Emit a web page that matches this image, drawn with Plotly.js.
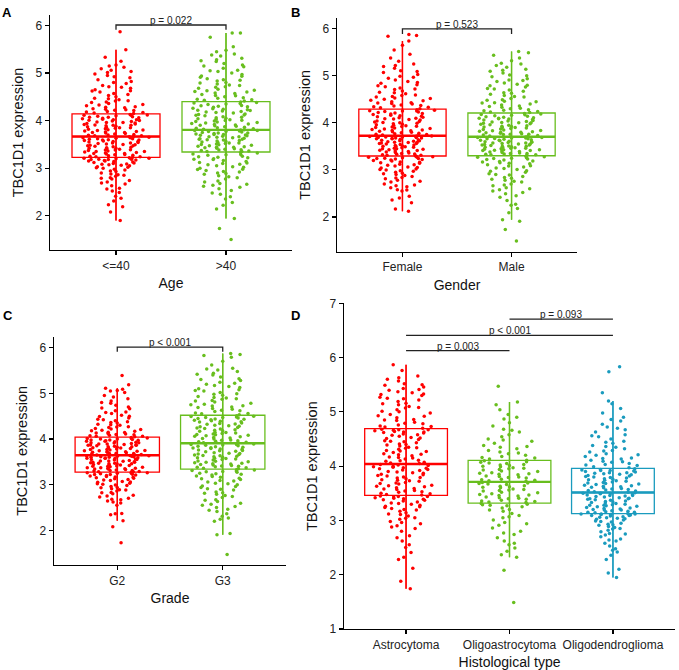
<!DOCTYPE html>
<html>
<head>
<meta charset="utf-8">
<script src="https://cdn.plot.ly/plotly-3.0.1.min.js"></script>
<style>html,body{margin:0;padding:0;background:#fff;}#chart{width:679px;height:670px;}</style>
</head>
<body>
<div id="chart"></div>
<script>
// ---------- categories ----------
const ageCats = ["<=40", ">40"];
const genderCats = ["Female", "Male"];
const gradeCats = ["G2", "G3"];
const histCats = ["Astrocytoma", "Oligoastrocytoma", "Oligodendroglioma"];

// ---------- values (TBC1D1 expression, estimated from the figure) ----------
const ageLE40 = [1.90,2.08,2.19,2.23,2.37,2.41,2.49,2.56,2.63,2.67,2.71,2.77,2.79,2.80,2.85,2.86,2.90,2.93,2.94,2.98,3.00,3.02,3.03,3.06,3.07,3.08,3.10,3.11,3.12,3.14,3.15,3.15,3.17,3.18,3.18,3.19,3.20,3.21,3.21,3.22,
 3.23,3.24,3.24,3.26,3.27,3.28,3.30,3.31,3.31,3.33,3.34,3.35,3.37,3.38,3.38,3.40,3.41,3.42,3.43,3.45,3.46,3.47,3.48,3.49,3.51,3.52,3.53,3.54,3.55,3.56,3.57,3.58,3.59,3.60,3.61,3.62,3.63,3.64,3.65,3.66,
 3.67,3.68,3.69,3.70,3.71,3.73,3.74,3.75,3.76,3.78,3.79,3.80,3.81,3.83,3.84,3.85,3.86,3.88,3.89,3.90,3.91,3.93,3.94,3.95,3.96,3.97,3.98,4.00,4.01,4.02,4.03,4.05,4.06,4.07,4.08,4.09,4.10,4.11,4.12,4.13,
 4.15,4.16,4.18,4.19,4.21,4.23,4.25,4.27,4.29,4.31,4.34,4.36,4.39,4.41,4.44,4.47,4.50,4.53,4.57,4.60,4.63,4.65,4.68,4.71,4.74,4.78,4.82,4.86,4.90,4.95,4.98,5.03,5.06,5.09,5.15,5.17,5.25,5.33,5.49,5.87,
 2.31,2.58,2.74,2.83,2.88,2.96,3.01,3.05,3.09,3.13,3.16,3.19,3.20,2.69,2.52,
 3.25,3.29,3.32,3.36,3.39,3.44,3.47,3.50,3.53,3.56,3.59,3.62,3.64,3.35,3.42,
 3.68,3.72,3.77,3.82,3.87,3.92,3.96,3.99,4.04,4.07,4.11,3.75,3.85,3.90,4.02,
 4.17,4.22,4.28,4.33,4.38,4.46,4.55,4.62,4.70,4.80,4.92,5.01,5.12,4.24,4.42];
const ageGT40 = [1.50,1.73,1.94,2.14,2.28,2.35,2.40,2.45,2.53,2.57,2.62,2.64,2.68,2.73,2.77,2.80,2.84,2.87,2.90,2.93,2.95,2.98,3.00,3.03,3.05,3.08,3.10,3.12,3.14,3.16,3.18,3.20,3.22,3.24,3.25,3.27,3.29,3.30,3.32,3.33,
 3.35,3.35,3.36,3.38,3.39,3.40,3.42,3.43,3.44,3.46,3.47,3.48,3.49,3.51,3.52,3.53,3.55,3.56,3.57,3.59,3.60,3.61,3.62,3.64,3.65,3.66,3.67,3.68,3.70,3.71,3.72,3.73,3.74,3.75,3.76,3.77,3.78,3.79,3.79,3.80,
 3.81,3.82,3.84,3.86,3.87,3.88,3.90,3.91,3.93,3.95,3.96,3.97,3.99,4.00,4.02,4.04,4.05,4.06,4.08,4.10,4.11,4.12,4.14,4.16,4.17,4.18,4.20,4.22,4.23,4.24,4.26,4.28,4.29,4.30,4.32,4.34,4.35,4.36,4.38,4.39,
 4.41,4.43,4.45,4.48,4.50,4.52,4.55,4.57,4.60,4.63,4.66,4.68,4.71,4.74,4.77,4.80,4.83,4.86,4.88,4.91,4.94,4.97,5.00,5.03,5.06,5.10,5.13,5.17,5.20,5.24,5.28,5.31,5.36,5.40,5.45,5.48,5.55,5.75,5.84,5.84,
 2.22,2.48,2.60,2.71,2.82,2.89,2.97,3.02,3.07,3.11,3.19,3.23,3.28,2.66,2.92,
 3.37,3.41,3.45,3.50,3.54,3.58,3.63,3.66,3.69,3.74,3.77,3.44,3.53,3.61,3.71,
 3.83,3.85,3.89,3.92,3.98,4.01,4.07,4.13,4.19,4.25,4.31,4.37,3.94,4.03,4.21,
 4.44,4.47,4.53,4.58,4.64,4.70,4.79,4.85,4.93,5.05,5.15,5.26,5.38,4.61,4.75];
const genderFemale = [2.12,2.17,2.30,2.36,2.44,2.55,2.57,2.58,2.62,2.66,2.70,2.74,2.78,2.81,2.84,2.88,2.90,2.93,2.95,2.98,3.00,3.02,3.04,3.06,3.08,3.10,3.12,3.14,3.15,3.17,3.19,3.20,3.22,3.23,3.24,3.25,3.26,3.27,3.28,3.29,
 3.30,3.31,3.32,3.33,3.35,3.36,3.37,3.39,3.40,3.41,3.43,3.44,3.45,3.46,3.48,3.49,3.50,3.51,3.53,3.54,3.55,3.56,3.57,3.58,3.60,3.61,3.62,3.63,3.64,3.65,3.66,3.67,3.68,3.69,3.69,3.70,3.71,3.71,3.72,3.72,
 3.73,3.75,3.76,3.78,3.79,3.80,3.82,3.83,3.85,3.86,3.88,3.89,3.91,3.92,3.94,3.95,3.97,3.98,4.00,4.01,4.03,4.04,4.06,4.07,4.09,4.10,4.12,4.13,4.15,4.16,4.18,4.19,4.21,4.22,4.23,4.24,4.25,4.26,4.27,4.28,
 4.30,4.32,4.34,4.36,4.38,4.41,4.43,4.45,4.48,4.50,4.53,4.56,4.59,4.62,4.65,4.68,4.71,4.74,4.77,4.81,4.84,4.88,4.91,4.95,4.99,5.03,5.07,5.11,5.16,5.20,5.25,5.31,5.38,5.46,5.55,5.65,5.74,5.84,5.86,5.88,
 2.40,2.64,2.76,2.86,2.92,2.97,3.01,3.05,3.11,3.16,3.21,3.24,3.27,2.68,2.83,
 3.31,3.34,3.38,3.42,3.47,3.50,3.52,3.56,3.59,3.62,3.66,3.68,3.70,3.45,3.58,
 3.74,3.77,3.81,3.84,3.87,3.90,3.96,3.99,4.02,4.08,4.14,4.20,4.25,3.93,4.11,
 4.33,4.37,4.42,4.47,4.52,4.58,4.64,4.72,4.79,4.86,4.97,5.09,5.22,4.40,4.55];
const genderMale = [1.49,1.73,1.91,1.94,2.09,2.18,2.27,2.35,2.42,2.49,2.55,2.58,2.62,2.66,2.70,2.74,2.78,2.82,2.86,2.89,2.92,2.95,2.98,3.01,3.04,3.06,3.09,3.11,3.13,3.15,3.17,3.19,3.21,3.22,3.24,3.25,3.26,3.27,3.28,3.29,
 3.31,3.32,3.33,3.34,3.35,3.36,3.37,3.38,3.40,3.41,3.42,3.43,3.44,3.45,3.46,3.47,3.48,3.49,3.50,3.51,3.52,3.53,3.54,3.55,3.56,3.57,3.58,3.59,3.60,3.61,3.62,3.63,3.64,3.65,3.66,3.67,3.68,3.69,3.69,3.70,
 3.71,3.72,3.74,3.75,3.76,3.77,3.79,3.80,3.81,3.83,3.84,3.85,3.86,3.88,3.89,3.90,3.91,3.93,3.94,3.95,3.96,3.98,3.99,4.00,4.01,4.03,4.04,4.05,4.06,4.08,4.09,4.10,4.11,4.13,4.14,4.15,4.16,4.18,4.19,4.20,
 4.22,4.24,4.26,4.28,4.30,4.33,4.35,4.38,4.40,4.43,4.46,4.49,4.52,4.55,4.58,4.61,4.64,4.67,4.70,4.73,4.76,4.79,4.82,4.85,4.88,4.91,4.94,4.98,5.02,5.06,5.10,5.14,5.18,5.22,5.27,5.32,5.38,5.44,5.49,5.52,
 2.25,2.45,2.60,2.68,2.76,2.84,2.90,2.97,3.03,3.08,3.14,3.18,3.23,2.52,2.80,
 3.32,3.35,3.39,3.43,3.46,3.50,3.53,3.57,3.60,3.63,3.66,3.68,3.41,3.48,3.55,
 3.73,3.76,3.80,3.82,3.87,3.92,3.97,4.02,4.07,4.12,4.17,3.78,3.90,4.00,4.10,
 4.23,4.27,4.31,4.36,4.42,4.48,4.56,4.63,4.72,4.80,4.90,5.00,5.12,5.25,4.45];
const gradeG2 = [1.73,2.08,2.21,2.34,2.37,2.55,2.60,2.64,2.67,2.70,2.73,2.77,2.80,2.83,2.86,2.89,2.91,2.94,2.96,2.99,3.01,3.03,3.05,3.07,3.09,3.11,3.13,3.14,3.16,3.17,3.19,3.20,3.21,3.22,3.23,3.24,3.25,3.25,3.26,3.27,
 3.28,3.29,3.30,3.31,3.32,3.33,3.34,3.35,3.36,3.37,3.38,3.39,3.40,3.41,3.42,3.43,3.44,3.45,3.46,3.47,3.48,3.49,3.50,3.51,3.52,3.53,3.54,3.55,3.56,3.57,3.58,3.58,3.59,3.60,3.61,3.61,3.62,3.63,3.63,3.64,
 3.65,3.66,3.67,3.68,3.69,3.70,3.71,3.72,3.73,3.74,3.75,3.76,3.77,3.78,3.79,3.80,3.81,3.82,3.83,3.84,3.85,3.86,3.87,3.88,3.89,3.90,3.91,3.92,3.93,3.94,3.95,3.96,3.97,3.98,3.99,4.00,4.01,4.01,4.02,4.03,
 4.05,4.06,4.07,4.09,4.10,4.12,4.13,4.15,4.17,4.19,4.21,4.23,4.25,4.27,4.30,4.32,4.35,4.38,4.40,4.43,4.46,4.49,4.52,4.56,4.59,4.62,4.66,4.70,4.74,4.78,4.83,4.88,4.92,4.95,5.02,5.06,5.09,5.11,5.19,5.39,
 2.36,2.62,2.68,2.75,2.82,2.88,2.93,2.98,3.02,3.06,3.10,3.15,3.18,3.22,3.26,
 3.28,3.31,3.34,3.37,3.40,3.43,3.46,3.49,3.52,3.55,3.58,3.60,3.62,3.36,3.47,
 3.65,3.68,3.71,3.74,3.77,3.80,3.83,3.86,3.89,3.92,3.95,3.98,4.00,3.72,3.87,
 4.06,4.08,4.11,4.14,4.18,4.22,4.26,4.31,4.36,4.42,4.50,4.58,4.68,4.80,5.05];
const gradeG3 = [1.47,1.90,1.93,2.20,2.27,2.31,2.36,2.41,2.46,2.50,2.55,2.59,2.63,2.67,2.72,2.76,2.79,2.81,2.84,2.88,2.91,2.94,2.97,3.00,3.03,3.06,3.09,3.11,3.14,3.16,3.18,3.21,3.23,3.25,3.27,3.29,3.30,3.31,3.32,3.33,
 3.35,3.36,3.37,3.39,3.40,3.42,3.43,3.45,3.46,3.48,3.49,3.51,3.52,3.54,3.55,3.57,3.58,3.60,3.61,3.63,3.64,3.66,3.67,3.69,3.70,3.72,3.73,3.75,3.76,3.78,3.79,3.81,3.82,3.83,3.85,3.86,3.87,3.88,3.89,3.90,
 3.91,3.92,3.94,3.95,3.97,3.98,4.00,4.02,4.03,4.05,4.07,4.08,4.10,4.12,4.13,4.15,4.17,4.18,4.20,4.22,4.23,4.25,4.27,4.28,4.30,4.32,4.33,4.35,4.37,4.38,4.40,4.42,4.43,4.44,4.45,4.46,4.47,4.48,4.49,4.51,
 4.53,4.55,4.57,4.60,4.62,4.65,4.67,4.70,4.73,4.75,4.78,4.81,4.84,4.87,4.90,4.93,4.96,4.99,5.02,5.05,5.08,5.10,5.13,5.17,5.20,5.24,5.28,5.32,5.36,5.40,5.44,5.48,5.51,5.55,5.62,5.70,5.79,5.83,5.85,5.87,
 2.24,2.44,2.57,2.66,2.74,2.82,2.90,2.96,3.02,3.08,3.13,3.19,3.24,3.28,2.52,
 3.38,3.41,3.47,3.50,3.56,3.59,3.65,3.68,3.74,3.77,3.80,3.84,3.88,3.44,3.62,
 3.93,3.96,4.01,4.06,4.09,4.14,4.19,4.24,4.29,4.34,4.39,4.41,4.47,4.50,4.11,
 4.56,4.63,4.69,4.76,4.83,4.91,4.98,5.06,5.15,5.22,5.30,5.42,5.53,4.72,4.88];
const histAstro = [1.74,1.88,2.12,2.32,2.41,2.55,2.62,2.72,2.80,2.85,2.90,2.94,2.98,3.02,3.05,3.08,3.11,3.14,3.17,3.20,3.22,3.24,3.26,3.28,3.30,3.32,3.34,3.36,3.38,3.39,3.40,3.41,3.42,3.43,3.44,3.45,
 3.47,3.49,3.50,3.52,3.54,3.55,3.57,3.59,3.60,3.62,3.64,3.65,3.67,3.69,3.70,3.72,3.74,3.75,3.77,3.79,3.80,3.82,3.84,3.85,3.87,3.89,3.90,3.92,3.93,3.95,3.96,3.97,3.99,4.00,4.01,4.03,
 4.05,4.07,4.09,4.11,4.13,4.15,4.17,4.19,4.21,4.23,4.25,4.27,4.29,4.31,4.33,4.35,4.37,4.39,4.41,4.43,4.45,4.47,4.49,4.51,4.53,4.55,4.57,4.59,4.61,4.62,4.63,4.64,4.65,4.66,4.67,4.68,
 4.70,4.72,4.74,4.76,4.79,4.81,4.84,4.86,4.89,4.92,4.95,4.98,5.01,5.04,5.07,5.10,5.13,5.16,5.19,5.22,5.25,5.27,5.30,5.32,5.35,5.37,5.40,5.43,5.46,5.49,5.52,5.57,5.60,5.63,5.76,5.87,
 2.28,2.50,2.68,2.88,2.96,3.04,3.12,3.19,3.25,3.31,3.37,3.44,
 3.48,3.53,3.58,3.63,3.68,3.73,3.78,3.83,3.88,3.94,3.98,4.02,
 4.06,4.10,4.16,4.22,4.28,4.34,4.40,4.46,4.52,4.58,4.63,4.67,
 4.73,4.78,4.85,4.93,5.00,5.08,5.15,5.24,5.33,5.41,5.50,5.66];
const histOligoastro = [1.49,2.08,2.32,2.37,2.43,2.49,2.55,2.62,2.68,2.74,2.80,2.86,2.91,2.96,3.01,3.05,3.09,3.13,3.17,3.20,3.23,3.25,3.27,3.29,3.30,3.31,
 3.33,3.34,3.36,3.37,3.39,3.40,3.42,3.43,3.45,3.46,3.48,3.49,3.51,3.52,3.54,3.55,3.57,3.58,3.60,3.61,3.63,3.64,3.66,3.67,3.69,3.70,
 3.72,3.73,3.75,3.76,3.78,3.79,3.81,3.82,3.84,3.85,3.87,3.88,3.90,3.91,3.93,3.94,3.96,3.97,3.99,4.00,4.02,4.03,4.05,4.06,4.08,4.10,
 4.11,4.13,4.15,4.18,4.20,4.23,4.26,4.29,4.32,4.35,4.38,4.42,4.46,4.50,4.54,4.58,4.63,4.68,4.74,4.80,4.87,4.95,5.04,5.13,5.18,5.47,
 2.58,2.77,2.94,3.07,3.19,3.28,
 3.35,3.41,3.47,3.56,3.62,3.68,
 3.74,3.80,3.86,3.95,4.01,4.07,
 4.16,4.24,4.36,4.48,4.66,4.90];
const histOligodendro = [1.95,2.03,2.10,2.28,2.36,2.42,2.48,2.53,2.58,2.62,2.66,2.70,2.73,2.76,2.79,2.82,2.85,2.87,2.89,2.91,2.93,2.95,2.97,2.99,3.01,3.03,3.04,3.06,3.07,3.08,3.09,3.10,3.11,3.11,3.12,3.12,
 3.13,3.14,3.15,3.16,3.17,3.18,3.19,3.20,3.21,3.22,3.23,3.25,3.26,3.27,3.28,3.29,3.31,3.32,3.33,3.34,3.35,3.37,3.38,3.39,3.40,3.41,3.43,3.44,3.45,3.46,3.47,3.48,3.49,3.50,3.50,3.51,
 3.52,3.53,3.55,3.56,3.57,3.59,3.60,3.61,3.63,3.64,3.65,3.66,3.68,3.69,3.70,3.72,3.73,3.74,3.76,3.77,3.78,3.80,3.81,3.82,3.84,3.85,3.86,3.87,3.88,3.89,3.90,3.91,3.92,3.93,3.94,3.95,
 3.97,3.99,4.01,4.03,4.05,4.07,4.09,4.11,4.13,4.15,4.18,4.20,4.23,4.26,4.29,4.32,4.35,4.38,4.42,4.46,4.50,4.54,4.58,4.63,4.67,4.72,4.77,4.83,4.90,4.98,5.06,5.15,5.20,5.35,5.74,5.83,
 2.45,2.64,2.75,2.84,2.92,2.98,3.02,3.05,3.09,3.12,
 3.15,3.19,3.24,3.28,3.30,3.36,3.40,3.42,3.46,3.49,
 3.54,3.58,3.62,3.67,3.71,3.75,3.79,3.83,3.88,3.92,
 4.02,4.08,4.14,4.21,4.28,4.36,4.44,4.56,4.70,4.86];

// ---------- text ----------
const yTitle = "TBC1D1 expression";
const xTitles = ["Age", "Gender", "Grade", "Histological type"];
const panelLabels = ["A", "B", "C", "D"];
const pAge = "p = 0.022", pGender = "p = 0.523", pGrade = "p < 0.001";
const pHist = ["p = 0.003", "p < 0.001", "p = 0.093"];

// ---------- style ----------
const RED = "#FF0000", GREEN = "#68BE1E", BLUE = "#1A9BBE";
const FONT = "Liberation Sans, Arial, sans-serif";
const W = 679, H = 670;
const NBANDS = 4;

const boxTraces = [];
const pointTraces = [];
const shapes = [];
const annotations = [];

function median(a) {
  const s = a.slice().sort((p, q) => p - q);
  const n = s.length;
  return n % 2 ? s[(n - 1) / 2] : (s[n / 2 - 1] + s[n / 2]) / 2;
}

function addGroup(ax, cat, idx, vals, color) {
  const xs = vals.map(() => cat);
  const common = {type: "box", xaxis: "x" + ax, yaxis: "y" + ax, hoverinfo: "skip", showlegend: false};
  // whisker line running through the box (a collapsed box)
  boxTraces.push(Object.assign({}, common, {x: xs, y: vals, width: 0.004,
    boxpoints: "outliers", marker: {opacity: 0, size: 1}, whiskerwidth: 0, fillcolor: color,
    line: {color: color, width: 1.3}}));
  // the box itself
  boxTraces.push(Object.assign({}, common, {x: xs, y: vals, width: 0.8,
    boxpoints: "outliers", marker: {opacity: 0, size: 1}, whiskerwidth: 0,
    fillcolor: "rgba(0,0,0,0)", line: {color: color, width: 1.3}}));
  // jittered points, split by rank into bands so the library jitters them evenly
  const s = vals.slice().sort((p, q) => p - q);
  for (let b = 0; b < NBANDS; b++) {
    const part = s.slice(Math.round(b * s.length / NBANDS), Math.round((b + 1) * s.length / NBANDS));
    pointTraces.push(Object.assign({}, common, {x: part.map(() => cat), y: part, width: 0.8,
      boxpoints: "all", jitter: 0.8, pointpos: 0, whiskerwidth: 0,
      fillcolor: "rgba(0,0,0,0)", line: {color: "rgba(0,0,0,0)", width: 0},
      marker: {color: color, size: 3.5, line: {width: 0}}}));
  }
  // thicker median
  const m = median(vals);
  shapes.push({type: "line", xref: "x" + ax, yref: "y" + ax, x0: idx - 0.4, x1: idx + 0.4,
    y0: m, y1: m, line: {color: color, width: 2.4}});
}

addGroup("", ageCats[0], 0, ageLE40, RED);
addGroup("", ageCats[1], 1, ageGT40, GREEN);
addGroup("2", genderCats[0], 0, genderFemale, RED);
addGroup("2", genderCats[1], 1, genderMale, GREEN);
addGroup("3", gradeCats[0], 0, gradeG2, RED);
addGroup("3", gradeCats[1], 1, gradeG3, GREEN);
addGroup("4", histCats[0], 0, histAstro, RED);
addGroup("4", histCats[1], 1, histOligoastro, GREEN);
addGroup("4", histCats[2], 2, histOligodendro, BLUE);

// significance brackets
function bracket(ax, x0, x1, yTop, yLow, txt) {
  shapes.push({type: "path", xref: "x" + ax, yref: "y" + ax,
    path: `M ${x0},${yLow} L ${x0},${yTop} L ${x1},${yTop} L ${x1},${yLow}`,
    line: {color: "#222", width: 1.3}});
  annotations.push({xref: "x" + ax, yref: "y" + ax, x: (x0 + x1) / 2, y: yTop, yanchor: "bottom",
    text: txt, showarrow: false, font: {family: FONT, size: 10, color: "#222"}, yshift: -3});
}
bracket("", 0, 1, 6.01, 5.91, pAge);
bracket("2", 0, 1, 6.00, 5.89, pGender);
bracket("3", 0, 1, 6.01, 5.91, pGrade);
bracket("4", 0, 1, 6.13, 6.13, pHist[0]);
bracket("4", 0, 2, 6.41, 6.41, pHist[1]);
bracket("4", 1, 2, 6.71, 6.71, pHist[2]);

// panel letters
const letterPos = [[0, 3], [289, 3], [1, 306], [289, 306]];
panelLabels.forEach((t, i) => {
  annotations.push({xref: "paper", yref: "paper", x: letterPos[i][0] / W, y: 1 - letterPos[i][1] / H,
    xanchor: "left", yanchor: "top", text: "<b>" + t + "</b>", showarrow: false,
    font: {family: FONT, size: 13, color: "#000"}});
});

function xa(domPx, anchor, title, range) {
  return {domain: [domPx[0] / W, domPx[1] / W], anchor: anchor, type: "category", range: range,
    showline: true, linecolor: "#000", linewidth: 1.3, ticks: "outside", ticklen: 4, tickwidth: 1.2,
    tickcolor: "#000", showgrid: false, zeroline: false, fixedrange: true,
    tickfont: {family: FONT, size: 12, color: "#222"},
    title: {text: title, font: {family: FONT, size: 14, color: "#111"}, standoff: 6}};
}
function ya(domPx, anchor, range) {
  return {domain: [1 - domPx[1] / H, 1 - domPx[0] / H], anchor: anchor, range: range, dtick: 1,
    showline: true, linecolor: "#000", linewidth: 1.3, ticks: "outside", ticklen: 4, tickwidth: 1.2,
    tickcolor: "#000", showgrid: false, zeroline: false, fixedrange: true,
    tickfont: {family: FONT, size: 12, color: "#222"},
    title: {text: yTitle, font: {family: FONT, size: 14.5, color: "#111"}, standoff: 8}};
}

const layout = {
  width: W, height: H, margin: {l: 0, r: 0, t: 0, b: 0}, showlegend: false,
  paper_bgcolor: "#fff", plot_bgcolor: "#fff", boxmode: "overlay",
  font: {family: FONT},
  xaxis:  xa([50, 292], "y", xTitles[0], [-0.6, 1.6]),
  yaxis:  ya([15, 250], "x", [1.28, 6.22]),
  xaxis2: xa([337, 577], "y2", xTitles[1], [-0.6, 1.6]),
  yaxis2: ya([18, 251.7], "x2", [1.26, 6.23]),
  xaxis3: xa([54, 286], "y3", xTitles[2], [-0.6, 1.6]),
  yaxis3: ya([336.7, 565], "x3", [1.24, 6.24]),
  xaxis4: xa([344, 675], "y4", xTitles[3], [-0.6, 2.6]),
  yaxis4: ya([303.3, 629], "x4", [1, 7]),
  shapes: shapes, annotations: annotations
};

Plotly.newPlot("chart", boxTraces.concat(pointTraces), layout, {displayModeBar: false, staticPlot: true});
</script>
</body>
</html>
